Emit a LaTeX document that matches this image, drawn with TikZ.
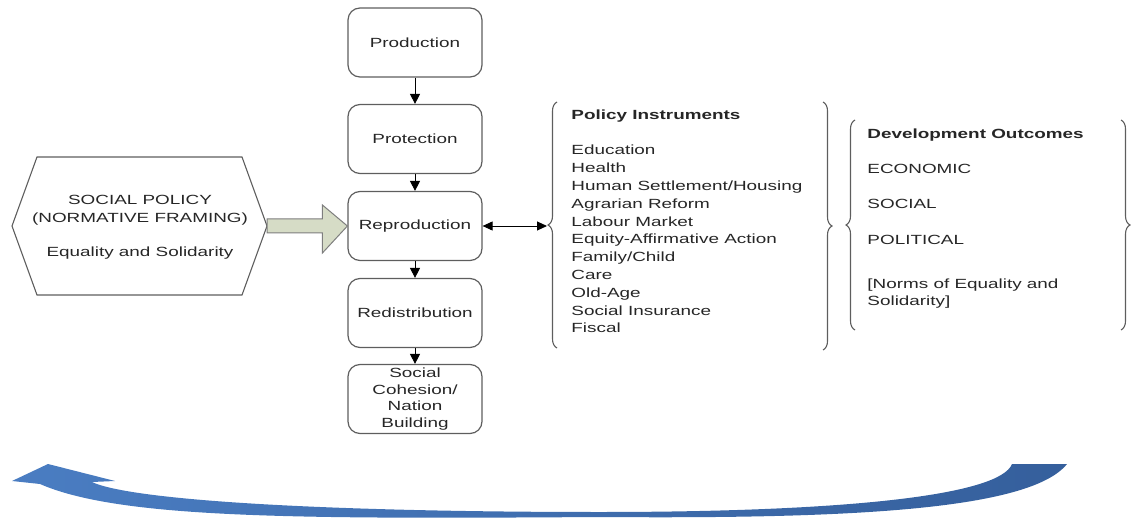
\documentclass[tikz,border=0pt]{standalone}
\usepackage{fontspec}
\setmainfont{Liberation Sans}[FakeStretch=1.42]
\usetikzlibrary{arrows.meta,decorations.pathreplacing,calc}
\definecolor{boxgray}{HTML}{5E5E5E}
\definecolor{txtgray}{HTML}{262626}
\definecolor{blockfill}{HTML}{D6DCC6}
\definecolor{bluelight}{HTML}{4A7DC2}
\definecolor{bluedark}{HTML}{355F9C}
\tikzset{
    every picture/.style={line width=0.9pt},
    stagebox/.style={draw=boxgray, line width=1.2pt, rounded corners=12pt,
        minimum width=134pt, minimum height=69pt, align=center, text=txtgray},
    flow/.style={-{Triangle[length=10pt,width=10pt]}, black},
    curly/.style={draw=boxgray, line width=1.1pt,
        decorate, decoration={brace, amplitude=9pt}}
}

\begin{document}
\begin{tikzpicture}[x=1pt, y=-1pt, font=\fontsize{13.3pt}{17.8pt}\selectfont]
    \useasboundingbox (0,0) rectangle (1131,529);

    % Stufen der Sozialpolitik
    \node[stagebox] (prod)  at (415,42.5) {Production};
    \node[stagebox] (prot)  at (415,139)  {Protection};
    \node[stagebox] (repr)  at (415,226)  {Reproduction};
    \node[stagebox] (redis) at (415,313)  {Redistribution};
    \node[stagebox, inner sep=0pt, font=\fontsize{13.3pt}{16.6pt}\selectfont]
        (cohes) at (415,399) {Social\\Cohesion/\\Nation\\Building};

    \draw[flow] (prod)  -- (prot);
    \draw[flow] (prot)  -- (repr);
    \draw[flow] (repr)  -- (redis);
    \draw[flow] (redis) -- (cohes);

    % normativer Rahmen (Sechseck)
    \draw[boxgray, line width=1.1pt] (37,157) -- (242,157) -- (267,226)
        -- (242,295) -- (37,295) -- (12,226) -- cycle;
    \node[align=center, text=txtgray] (policy) at (140,227)
        {SOCIAL POLICY\\(NORMATIVE FRAMING)\\[16pt]Equality and Solidarity};

    % Blockpfeil
    \coordinate (hexright) at (267,226);
    \draw[fill=blockfill, draw=boxgray!80, line width=1pt]
        ($(hexright)+(0,-7)$) -- ($(repr.west)+(-25,-7)$) -- ($(repr.west)+(-25,-21)$)
        -- (repr.west) -- ($(repr.west)+(-25,27)$) -- ($(repr.west)+(-25,7)$)
        -- ($(hexright)+(0,7)$) -- cycle;

    % Instrumente
    \coordinate (instrtip) at (547,226);
    \draw[{Triangle[length=10pt,width=9pt]}-{Triangle[length=10pt,width=9pt]}, black]
        (repr.east) -- (instrtip);
    \draw[curly] (557,348) -- (557,102);
    \draw[curly] (823,102) -- (823,350);
    \node[anchor=north west, align=left, text=txtgray, inner sep=0pt] (instr) at (571,109)
        {\textbf{Policy Instruments}\\[18pt]Education\\Health\\Human Settlement/Housing\\
         Agrarian Reform\\Labour Market\\Equity-Affirmative Action\\Family/Child\\
         Care\\Old-Age\\Social Insurance\\Fiscal};

    % Ergebnisse
    \draw[curly] (855,330) -- (855,120);
    \draw[curly] (1121,120) -- (1121,330);
    \node[anchor=north west, align=left, text=txtgray, inner sep=0pt] (outc) at (867,128)
        {\textbf{Development Outcomes}\\[17.6pt]ECONOMIC\\[17.6pt]SOCIAL\\[17.6pt]POLITICAL\\[26pt]
         [Norms of Equality and\\Solidarity]};

    % Rueckkopplungspfeil unten
    \shade[left color=bluelight, right color=bluedark]
        (1012,464) -- (1067,464)
        .. controls (1030,510) and (850,519) .. (600,517)
        .. controls (300,519) and (120,519) .. (40,484)
        -- (12,481) -- (48,464) -- (115,481) -- (92,482)
        .. controls (130,500) and (320,512) .. (600,512)
        .. controls (850,512) and (1000,495) .. cycle;
\end{tikzpicture}
\end{document}
